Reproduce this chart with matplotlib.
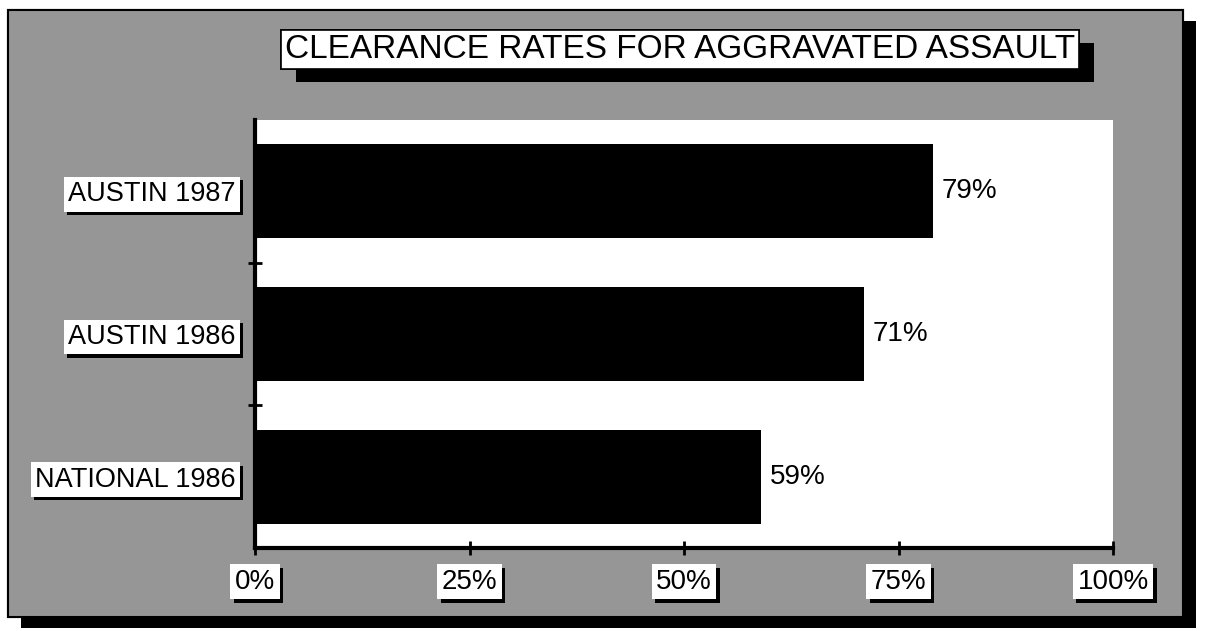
"""
Clearance rates for aggravated assault - horizontal bar chart on a shaded panel.
"""

import matplotlib
matplotlib.use("Agg")
import matplotlib.pyplot as plt
import matplotlib.patheffects as pe
from matplotlib.patches import Rectangle

# data
categories = ["AUSTIN 1987", "AUSTIN 1986", "NATIONAL 1986"]
rates = [79, 71, 59]
xticks = [0, 25, 50, 75, 100]
xtick_labels = ["0%", "25%", "50%", "75%", "100%"]
title = "CLEARANCE RATES FOR AGGRAVATED ASSAULT"

W, H = 1209, 631
plt.rcParams['font.family'] = ['Liberation Sans', 'DejaVu Sans']

fig = plt.figure(figsize=(W / 100, H / 100), dpi=100)
fig.patch.set_facecolor('white')


def px(x0, y0, x1, y1):
    """pixel box (top-left origin) -> figure fraction rect"""
    return [x0 / W, 1 - y1 / H, (x1 - x0) / W, (y1 - y0) / H]


def shadow(off):
    return [pe.withSimplePatchShadow(offset=off, shadow_rgbFace='black', alpha=1.0),
            pe.Normal()]


# shaded background panel with drop shadow
l, b, w, h = px(8, 10, 1183, 617)
panel = Rectangle((l, b), w, h, transform=fig.transFigure, facecolor='#969696',
                  edgecolor='black', linewidth=1.5, zorder=0)
panel.set_path_effects(shadow((9, -8)))
fig.patches.append(panel)

# plot area
ax = fig.add_axes(px(255, 120, 1113, 548))
ax.set_facecolor('white')
ax.set_zorder(2)

ypos = list(range(len(categories)))
ax.barh(ypos, rates, height=0.66, color='black')
for y, v in zip(ypos, rates):
    ax.annotate(f"{v}%", (v, y), xytext=(6, 0), textcoords='offset points',
                ha='left', va='center', fontsize=20)

ax.set_xlim(0, 100)
ax.set_ylim(len(categories) - 0.5, -0.5)

for s in ['top', 'right']:
    ax.spines[s].set_visible(False)
for s in ['left', 'bottom']:
    ax.spines[s].set_linewidth(3)

ax.set_xticks(xticks)
ax.set_xticklabels(xtick_labels, fontsize=20)
ax.tick_params(axis='x', direction='inout', length=10, width=2, pad=10)

ax.set_yticks(ypos)
ax.set_yticklabels(categories, fontsize=19.5)
ax.tick_params(axis='y', length=0, pad=14)
ax.set_yticks([0.5, 1.5], minor=True)
ax.tick_params(axis='y', which='minor', direction='inout', length=10, width=2)

# white label boxes with a small black shadow
for t in ax.get_xticklabels() + ax.get_yticklabels():
    t.set_bbox(dict(boxstyle='square,pad=0.16', facecolor='white', edgecolor='none'))
    t.get_bbox_patch().set_path_effects(shadow((2.5, -2.5)))

# title box
tt = fig.text(680 / W, 1 - 49 / H, title, ha='center', va='center', fontsize=24,
              zorder=5,
              bbox=dict(boxstyle='square,pad=0.12', facecolor='white',
                        edgecolor='black', linewidth=1.2))
tt.get_bbox_patch().set_path_effects(shadow((11, -10)))

fig.savefig("out.png", dpi=100)
